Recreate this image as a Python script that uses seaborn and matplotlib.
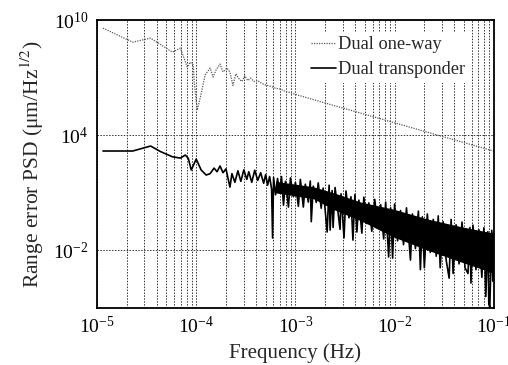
import numpy as np
import matplotlib
matplotlib.use("Agg")
import matplotlib.pyplot as plt
import matplotlib.ticker as mticker
import seaborn as sns

# values, stored as log10(frequency / Hz) and log10(PSD)
oneway_logf = [-4.94, -4.64, -4.46, -4.24, -4.16, -4.09, -4.06, -4.03, -4.02, -3.99,
               -3.96, -3.91, -3.86, -3.83, -3.80, -3.76, -3.73, -3.69, -3.66, -3.63,
               -3.60, -3.57, -3.54, -3.51, -3.48, -3.45, -3.42, -3.38, -3.34, -3.30,
               -3.25, -3.20, -3.15, -3.10, -3.05, -3.00, -2.90, -2.80, -2.70, -2.60,
               -2.50, -2.40, -2.30, -2.00, -1.50, -1.00]
oneway_logpsd = [9.58, 8.85, 9.06, 8.33, 8.54, 7.55, 7.81, 7.66, 6.77, 5.31,
                 5.94, 7.14, 7.50, 7.03, 7.40, 7.71, 7.30, 7.50, 7.29, 6.60,
                 7.20, 6.95, 6.80, 7.10, 6.85, 6.98, 6.80, 6.85, 6.70, 6.62,
                 6.55, 6.45, 6.40, 6.28, 6.22, 6.13, 5.98, 5.83, 5.68, 5.53,
                 5.39, 5.24, 5.09, 4.65, 3.91, 3.18]

transp_logf = [-4.94, -4.64, -4.46, -4.36, -4.24, -4.16, -4.11, -4.08, -4.05, -4.00,
               -3.95, -3.90, -3.86, -3.82, -3.79, -3.76, -3.73, -3.70, -3.66, -3.64,
               -3.61, -3.58, -3.55, -3.52, -3.49, -3.47, -3.44, -3.41, -3.38, -3.35,
               -3.32, -3.30, -3.28, -3.26, -3.24, -3.23, -3.22, -3.20, -3.18,
               -3.16, -3.14, -3.12, -3.10, -3.07, -3.05, -3.02, -3.00, -2.97, -2.95,
               -2.92, -2.90, -2.87, -2.85, -2.84, -2.82, -2.79, -2.77, -2.74, -2.72,
               -2.68, -2.66, -2.65, -2.63, -2.62, -2.60, -2.57, -2.55, -2.54, -2.51,
               -2.49, -2.46, -2.44, -2.42, -2.40, -2.38, -2.36, -2.33, -2.31, -2.28,
               -2.26, -2.23, -2.20, -2.17, -2.14, -2.11, -2.09, -2.06, -2.04, -2.02,
               -2.00, -1.97, -1.94, -1.91, -1.88, -1.84, -1.82, -1.79, -1.76, -1.74,
               -1.72, -1.70, -1.67, -1.64, -1.61, -1.58, -1.56, -1.54, -1.51, -1.48,
               -1.45, -1.43, -1.41, -1.38, -1.35, -1.32, -1.29, -1.26, -1.24, -1.23,
               -1.21, -1.18, -1.15, -1.12, -1.10, -1.08, -1.06, -1.05, -1.04, -1.02,
               -1.01, -1.00]
transp_logpsd = [3.18, 3.18, 3.44, 3.15, 2.88, 2.81, 2.97, 2.80, 2.19, 2.76,
                 2.19, 1.93, 2.00, 2.29, 2.10, 2.40, 2.05, 2.25, 1.30, 2.00,
                 1.55, 2.15, 1.60, 2.20, 1.70, 2.10, 1.55, 2.18, 1.65, 2.05,
                 1.50, 1.95, 1.40, 1.85, 1.20, -1.35, 1.80, 0.90, 1.75,
                 1.00, 1.85, 0.36, 1.60, 0.26, 1.78, 0.80, 1.55, 0.30, 1.70,
                 0.26, 1.45, 0.52, 1.62, -0.50, 1.35, 0.50, 1.52, 0.20, 1.25,
                 -1.04, 1.40, -0.94, 1.12, -0.80, 1.28, 0.00, -0.90, 0.95, -1.35,
                 1.10, -0.30, 0.80, -1.46, 0.92, -1.04, 0.62, -1.10, 0.78, -0.60,
                 0.48, -1.00, 0.66, -0.80, 0.38, -1.40, 0.52, -2.34, 0.22, -2.40,
                 0.42, -1.50, 0.08, -1.70, 0.22, -2.50, -0.10, -1.90, 0.05, -3.00,
                 -0.25, -2.90, -0.10, -2.10, -0.38, -2.30, -0.20, -2.90, -0.50, -2.50,
                 -3.44, -0.38, -3.20, -0.66, -2.70, -0.52, -2.90, -3.20, -0.80, -3.70,
                 -0.68, -3.00, -0.92, -3.40, -0.82, -4.40, -1.02, -4.80, -4.95, -0.95,
                 -3.60, -1.04]

# solid core of the dense high-frequency part of the transponder spectrum
band_logf = [-3.20, -2.82, -2.60, -2.34, -2.01, -1.67, -1.33, -1.00]
band_upper = [1.60, 1.32, 0.98, 0.52, 0.15, -0.36, -0.76, -1.10]
band_lower = [1.00, 0.70, 0.10, -0.45, -1.30, -1.98, -2.60, -3.18]

x_ticks = [1e-5, 1e-4, 1e-3, 1e-2, 1e-1]
y_ticks = [1e-2, 1e4, 1e10]

sns.set_theme(style="white")
plt.rcParams['font.family'] = ['Liberation Serif', 'DejaVu Serif']
plt.rcParams['mathtext.fontset'] = 'stix'
plt.rcParams['font.size'] = 14

fig = plt.figure(figsize=(5.08, 3.65), dpi=100)
ax = fig.add_axes([0.191, 0.156, 0.781, 0.789])

ax.set_xscale('log')
ax.set_yscale('log')

sns.lineplot(x=10 ** np.array(oneway_logf), y=10 ** np.array(oneway_logpsd),
             estimator=None, sort=False, ax=ax, color='0.35', lw=0.9,
             linestyle=(0, (1, 1)), label='Dual one-way')
ax.fill_between(10 ** np.array(band_logf), 10 ** np.array(band_lower),
                10 ** np.array(band_upper), color='black', lw=0)
sns.lineplot(x=10 ** np.array(transp_logf), y=10 ** np.array(transp_logpsd),
             estimator=None, sort=False, ax=ax, color='black', lw=1.2,
             label='Dual transponder')

ax.set_xlim(1e-5, 1e-1)
ax.set_ylim(1e-5, 1e10)
ax.set_xticks(x_ticks)
ax.xaxis.set_minor_locator(mticker.LogLocator(base=10, subs=np.arange(2, 10)))
ax.xaxis.set_minor_formatter(mticker.NullFormatter())
ax.set_yticks(y_ticks)
ax.yaxis.set_minor_locator(mticker.NullLocator())

ax.grid(True, which='major', axis='both', color='0.2', lw=0.7, linestyle=(0, (1.5, 1.5)))
ax.grid(True, which='minor', axis='x', color='0.2', lw=0.7, linestyle=(0, (1.5, 1.5)))
ax.tick_params(which='both', direction='in', length=3, width=0.8, colors='black',
               labelsize=14, pad=6)
ax.tick_params(which='minor', length=0)
for s in ax.spines.values():
    s.set_color('black')
    s.set_linewidth(1.3)

ax.set_xlabel('Frequency (Hz)', fontsize=15, labelpad=4)
ax.set_ylabel('Range error PSD (μm/Hz$^{1/2}$)', fontsize=15.5, labelpad=5)

leg = ax.legend(loc='upper right', bbox_to_anchor=(0.94, 0.96), fontsize=13.2,
                frameon=True, framealpha=1, edgecolor='none', facecolor='white',
                handlelength=1.4, handletextpad=0.12, borderpad=0.25,
                labelspacing=0.45, borderaxespad=0, fancybox=False)

fig.savefig('out.png', dpi=100)
